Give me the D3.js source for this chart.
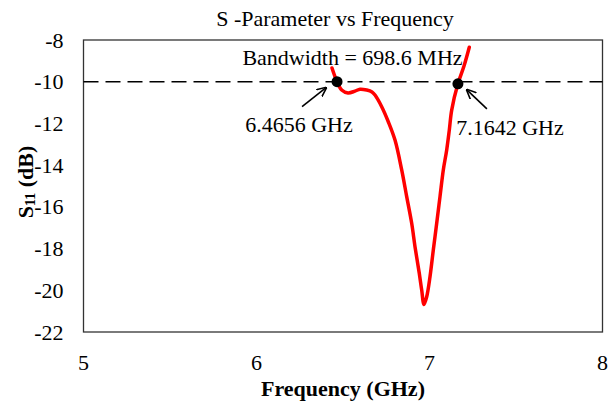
<!DOCTYPE html>
<html><head><meta charset="utf-8">
<script src="https://cdn.jsdelivr.net/npm/d3@7"></script>
<style>body{margin:0;background:#fff}svg{display:block}</style>
</head><body><svg id="c" width="609" height="405"></svg>
<script>
const freq = [6.4364,6.4656,6.4925,6.529,6.5694,6.5983,6.637,6.6676,6.685,6.7237,6.7618,6.8006,6.8393,6.8682,6.8971,6.9162,6.941,6.9549,6.9682,6.9838,7.0029,7.022,7.0416,7.0607,7.0798,7.0994,7.1145,7.1283,7.1642,7.1994,7.23];
const s11 = [-9.34,-10.0,-10.40,-10.54,-10.45,-10.36,-10.40,-10.49,-10.64,-11.20,-11.92,-12.80,-14.23,-15.51,-16.79,-17.91,-19.19,-19.99,-20.68,-20.31,-19.35,-18.07,-16.79,-15.51,-14.23,-13.27,-12.32,-11.36,-10.10,-9.25,-8.35];
const xTicks = [5,6,7,8];
const yTicks = [-8,-10,-12,-14,-16,-18,-20,-22];
const markerF = [6.4656,7.1642];
const markerDb = [-10.0,-10.1];
const markerLabels = ["6.4656 GHz","7.1642 GHz"];
const threshold = -10;
const bandwidthText = "Bandwidth = 698.6 MHz";

const FONT = "Liberation Serif";
const FS = 22;
const svg = d3.select("#c");
const L=83.5, R=602.5, T=40, B=332;
const x = d3.scaleLinear().domain([5,8]).range([L,R]);
const y = d3.scaleLinear().domain([-22,-8]).range([B,T]);

const txt = (t,xx,yy,anchor,size,bold)=>svg.append("text").attr("x",xx).attr("y",yy).attr("text-anchor",anchor)
  .attr("font-size",size).attr("font-weight",bold?"bold":"normal").style("font-family",FONT).attr("fill","#000").text(t);

// tick labels from scales
xTicks.forEach(v=>txt(String(v), x(v), 370, "middle", FS));
yTicks.forEach(v=>txt(v<0?"-"+Math.abs(v):String(v), L-20, y(v)+7.5, "end", FS));

// plot box
svg.append("rect").attr("x",L).attr("y",T).attr("width",R-L).attr("height",B-T)
  .attr("fill","none").attr("stroke","#333").attr("stroke-width",1.3);

// threshold dashed line
svg.append("line").attr("x1",L).attr("x2",R).attr("y1",y(threshold)).attr("y2",y(threshold))
  .attr("stroke","#000").attr("stroke-width",1.6).attr("stroke-dasharray","15,7");

// curve
const line = d3.line().x((d,i)=>x(freq[i])).y((d,i)=>y(s11[i])).curve(d3.curveCatmullRom.alpha(0.5));
svg.append("path").attr("d",line(freq)).attr("fill","none").attr("stroke","#ff0000").attr("stroke-width",3.5).attr("stroke-linecap","round");

// markers
svg.selectAll("circle.m").data(markerF).enter().append("circle")
  .attr("cx",d=>x(d)).attr("cy",(d,i)=>y(markerDb[i])).attr("r",5.5).attr("fill","#000");

// arrows
const defs = svg.append("defs");
defs.append("marker").attr("id","ah").attr("viewBox","0 0 10 10").attr("refX",9).attr("refY",5)
  .attr("markerWidth",10).attr("markerHeight",10).attr("orient","auto").attr("markerUnits","userSpaceOnUse")
  .append("path").attr("d","M0,0.5 L10,5 L0,9.5").attr("fill","none").attr("stroke","#000").attr("stroke-width",1.6);
const arrowOff = [[-35,25,-11,6],[29,25,9,6]];
markerF.forEach((f,i)=>{
  const cx=x(f), cy=y(markerDb[i]), o=arrowOff[i];
  svg.append("line").attr("x1",cx+o[0]).attr("y1",cy+o[1]).attr("x2",cx+o[2]).attr("y2",cy+o[3])
    .attr("stroke","#000").attr("stroke-width",1.6).attr("marker-end","url(#ah)");
});

// labels
txt(markerLabels[0], 299, 132, "middle", FS);
txt(markerLabels[1], 510, 135, "middle", FS);
txt(bandwidthText, 352.5, 65, "middle", FS);
txt("S -Parameter vs Frequency", 335, 26, "middle", FS);
txt("Frequency (GHz)", 343, 396, "middle", FS, true);

const yt = svg.append("text").attr("transform",`translate(33,182) rotate(-90)`).attr("text-anchor","middle")
  .attr("font-size",FS).attr("font-weight","bold").style("font-family",FONT).attr("fill","#000");
yt.append("tspan").text("S");
yt.append("tspan").attr("font-size",14).attr("dy",2).text("11");
yt.append("tspan").attr("dy",-2).text(" (dB)");
</script></body></html>
